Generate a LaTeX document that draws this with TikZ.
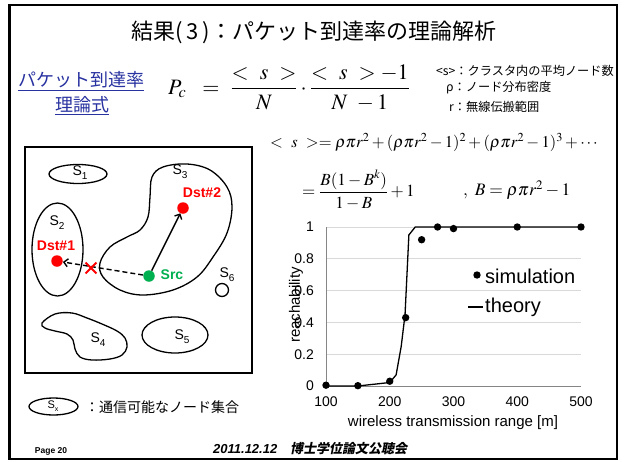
\documentclass[tikz,border=0pt]{standalone}
\usepackage{amsmath}
\usepackage{mathptmx}
\usepackage[no-math]{fontspec}
\setmainfont{Liberation Sans}
\newfontfamily\jp{Noto Sans CJK JP}
\newfontfamily\jpsl{Noto Sans CJK JP}[FakeSlant=0.2]
\usetikzlibrary{arrows.meta,shapes.misc,shapes.geometric}
\definecolor{ublue}{RGB}{40,50,160}
\definecolor{sgreen}{RGB}{0,176,80}
\definecolor{gridgray}{RGB}{217,217,217}
\definecolor{axgray}{RGB}{134,134,134}
\newcommand\Ssb[1]{S\raisebox{-0.3em}{\fontsize{10}{10}\selectfont #1}}
\tikzset{
  every node/.style={inner sep=0pt},
  setline/.style={line width=1.3pt},
  setell/.style={draw, ellipse, line width=1.3pt},
  slabel/.style={font=\fontsize{14}{14}\selectfont},
  dot/.style={circle, minimum size=11.5pt},
  redlbl/.style={red, font=\bfseries\fontsize{14}{14}\selectfont},
  arr/.style={line width=1.4pt, -{Straight Barb[length=4pt,width=8pt]}},
  tick/.style={font=\fontsize{14}{14}\selectfont},
  note/.style={anchor=west, font=\jp\fontsize{12.2}{14}\selectfont},
}
\begin{document}
\begin{tikzpicture}[x=1pt,y=-1pt]
\useasboundingbox (0,0) rectangle (624,461);
\fill[white] (0,0) rectangle (624,461);
% slide frame
\draw[line width=2.5pt] (9.5,5) rectangle (617,459);

% title
\node (title) at (314,32) {\jp\fontsize{22}{26}\selectfont 結果(\,3\,)：パケット到達率の理論解析};

% left heading
\node[ublue] (pk) at (81,80) {\jp\fontsize{18}{20}\selectfont パケット到達率};
\node[ublue] (rs) at (82,105) {\jp\fontsize{18}{20}\selectfont 理論式};
\draw[ublue, line width=1pt] ([yshift=-1.5pt]pk.south west) -- ([yshift=-1.5pt]pk.south east);
\draw[ublue, line width=1pt] ([yshift=-1.5pt]rs.south west) -- ([yshift=-1.5pt]rs.south east);

% main formula
\node (pc) at (289,88) {\fontsize{22}{26}\selectfont $P_c\;\ =\ \dfrac{<\ s\ >}{N}\cdot\dfrac{<\ s\ > -1}{N\ -1}$};

% notes
\node[note] (n1) at (436,71) {<s>：クラスタ内の平均ノード数};
\node[note] (n2) at (446,88) {ρ：ノード分布密度};
\node[note] (n3) at (449,107) {r：無線伝搬範囲};

% series formula
\node[anchor=west] (eq1) at (270,142) {\fontsize{16.5}{20}\selectfont $<\ s\ >= \rho\pi r^2 + (\rho\pi r^2 -1)^2 + (\rho\pi r^2 -1)^3 + \cdots$};
\node[anchor=west] (eq2) at (302,190) {\fontsize{17}{20}\selectfont $= \dfrac{B(1-B^k)}{1-B} + 1$};
\node[anchor=west] (eq3) at (463,190) {\fontsize{17.5}{20}\selectfont $,\ B = \rho\pi r^2 -1$};

% diagram box
\draw[setline] (25,147) rectangle (252,373);
\node[setell, minimum width=58pt, minimum height=19pt] (s1) at (78,174) {};
\node[slabel] (l1) at (80,173) {\Ssb{1}};
\node[setell, minimum width=51pt, minimum height=93pt] (s2) at (57.5,249.5) {};
\node[slabel] (l2) at (57,223) {\Ssb{2}};
\draw[setline] plot[smooth cycle, tension=0.6] coordinates {
 (152,177) (163,167) (187,164) (210,170) (227,187) (232,207) (227,233) (213,257)
 (197,277) (173,290) (143,295) (120,290) (103,277) (100,263) (110,247) (127,237)
 (140,230) (148,217) (150,197)};
\node[slabel] (l3) at (180,172) {\Ssb{3}};
\draw[setline] plot[smooth cycle, tension=0.6] coordinates {
 (42,323) (55,314) (72,313) (87,318) (102,324) (117,331) (125,338) (127,347)
 (122,355) (110,359) (92,360) (80,357) (75,349) (73,340) (67,334) (55,331) (45,328)};
\node[slabel] (l4) at (98,340) {\Ssb{4}};
\node[setell, minimum width=66pt, minimum height=36pt] (s5) at (175,335) {};
\node[slabel] (l5) at (182,337) {\Ssb{5}};
\node[draw, circle, line width=1.3pt, minimum size=13pt] (s6) at (222,290) {};
\node[slabel] (l6) at (227,275) {\Ssb{6}};

\node[dot, fill=red] (dst1) at (57,261) {};
\node[redlbl] (d1) at (56,246) {Dst\#1};
\node[dot, fill=red] (dst2) at (183,208) {};
\node[redlbl] (d2) at (202,193) {Dst\#2};
\node[dot, fill=sgreen] (src) at (149,276) {};
\node[sgreen, font=\bfseries\fontsize{14}{14}\selectfont] (srcl) at (172,275) {Src};
\draw[arr] (src) -- (dst2);
\draw[arr, dash pattern=on 5pt off 3pt] (src) -- (dst1);
\node[cross out, draw=red, line width=1.8pt, minimum size=9pt] (cross) at (91,268) {};

% legend of sets
\node[setell, minimum width=49pt, minimum height=17pt] (sx) at (53.5,406.5) {};
\node[font=\fontsize{11}{11}\selectfont] (lx) at (53,406) {S\raisebox{-0.3em}{\fontsize{7}{7}\selectfont x}};
\node[anchor=west] (lxt) at (85,407) {\jp\fontsize{14}{16}\selectfont ：通信可能なノード集合};

% chart
\foreach \v in {0.2,0.4,0.6,0.8,1}
  \draw[gridgray, line width=0.8pt] (326,{386-159*\v}) -- (581,{386-159*\v});
\draw[axgray, line width=0.8pt] (326,386) -- (326,227);
\draw[axgray, line width=0.8pt] (326,386) -- (581,386);
\foreach \v/\t in {0/0,0.2/0.2,0.4/0.4,0.6/0.6,0.8/0.8,1/1}
  \node[tick, anchor=east] at (314,{386-159*\v}) {\t};
\foreach \m in {100,200,300,400,500}
  \node[tick] at ({326+(\m-100)*0.6375},402) {\m};
\node[font=\fontsize{15}{15}\selectfont] (xt) at (453,423) {wireless transmission range [m]};
\node[font=\fontsize{15}{15}\selectfont, rotate=90] (yt) at (296,305) {reachability};
\begin{scope}[xshift=262.25pt, yshift=-386pt, x=0.6375pt, y=159pt]
  \draw[line width=1.3pt] (100,0) -- (150,0) -- (200,0.022) -- (210,0.07) -- (218,0.25)
     -- (224,0.45) -- (230,0.95) -- (240,1) -- (500,1);
  \foreach \m/\v in {100/0.005,150/0.002,200/0.03,225/0.43,250/0.92,275/1,300/0.99,400/1,500/1}
    \fill (\m,\v) circle[radius=3.7pt];
\end{scope}
\fill (477,275) circle[radius=3.7pt];
\node[anchor=west, font=\fontsize{20}{20}\selectfont] (ls) at (485,276) {simulation};
\draw[line width=1.3pt] (468,307) -- (483,307);
\node[anchor=west, font=\fontsize{20}{20}\selectfont] (lt) at (485,307) {theory};

% footer
\node[font=\bfseries\fontsize{8.5}{9}\selectfont] (pg) at (51,451) {Page 20};
\node[anchor=west, font=\bfseries\itshape\fontsize{13}{13}\selectfont] (date) at (213,449) {2011.12.12};
\node[anchor=west] (ev) at (290,449) {\jpsl\bfseries\fontsize{13}{13}\selectfont 博士学位論文公聴会};
\end{tikzpicture}
\end{document}
